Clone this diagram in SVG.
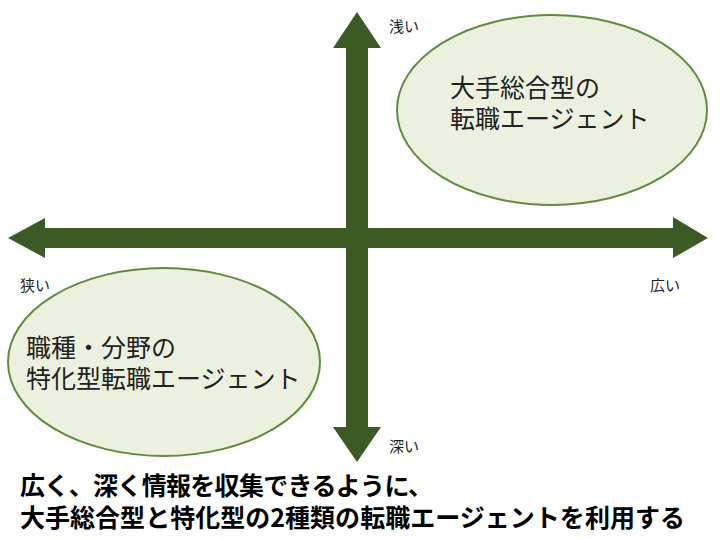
<svg xmlns="http://www.w3.org/2000/svg" width="720" height="539" viewBox="0 0 720 539">
<style>
.arrow{fill:#3b5a24;}
.oval{fill:#ebf1de;stroke:#5f8c3c;stroke-width:2;}
.t{font-family:"Noto Sans CJK JP","Noto Sans",sans-serif;fill:#222;}
.lbl{font-size:15px;}
.node{font-size:25px;}
.cap{font-size:25px;font-weight:bold;fill:#000;}
</style>
<rect width="720" height="539" fill="#ffffff"/>
<g id="node-large">
<ellipse class="oval" cx="552" cy="110" rx="155" ry="95"/>
<text class="t node" x="450" y="97">大手総合型の</text>
<text class="t node" x="450" y="128">転職エージェント</text>
</g>
<g id="node-special">
<ellipse class="oval" cx="164" cy="362" rx="156" ry="94"/>
<text class="t node" x="26" y="357">職種・分野の</text>
<text class="t node" x="26" y="388">特化型転職エージェント</text>
</g>
<g id="connectors">
<polygon class="arrow" points="8,238 45,218 45,228 673,228 673,217 708,238 673,258 673,248 45,248 45,258"/>
<polygon class="arrow" points="357,12 381,48 368,48 368,427 381,427 357,462 333,427 346,427 346,48 333,48"/>
</g>
<g id="axis-labels">
<text class="t lbl" x="389" y="32">浅い</text>
<text class="t lbl" x="20" y="291">狭い</text>
<text class="t lbl" x="650" y="291">広い</text>
<text class="t lbl" x="389" y="452">深い</text>
</g>
<g id="caption">
<text class="t cap" x="20" y="495" textLength="413" lengthAdjust="spacing">広く、深く情報を収集できるように、</text>
<text class="t cap" x="20" y="527" textLength="665" lengthAdjust="spacing">大手総合型と特化型の2種類の転職エージェントを利用する</text>
</g>
</svg>
